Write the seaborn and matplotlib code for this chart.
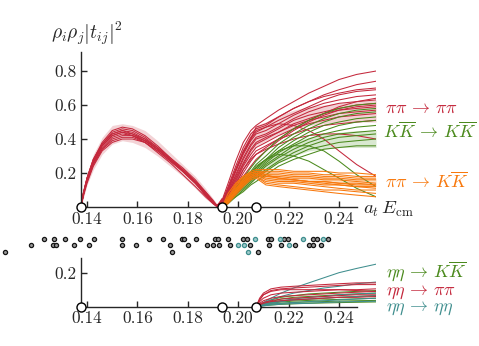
import numpy as np
import pandas as pd
import seaborn as sns
import matplotlib.pyplot as plt

# thresholds 2m_pi, 2m_K, 2m_eta (a_t units)
THRESHOLDS = [0.1376, 0.1936, 0.2071]

RED = '#c4283c'
GREEN = '#4b8a1d'
ORANGE = '#f8780c'
TEAL = '#3f8e8e'

# pi pi -> pi pi below KKbar threshold
X_HUMP = [0.1376, 0.1385, 0.1400, 0.1425, 0.1460, 0.1500, 0.1540, 0.1580, 0.1630,
          0.1680, 0.1730, 0.1780, 0.1830, 0.1870, 0.1900, 0.1915, 0.1936]
PIPI_HUMP = [
    [0, .08, .17, .28, .38, .45, .47, .46, .42, .36, .29, .22, .15, .08, .03, .006, .03],
    [0, .08, .17, .28, .37, .44, .46, .45, .41, .35, .28, .21, .14, .08, .03, .004, .02],
    [0, .07, .16, .27, .37, .43, .45, .44, .40, .34, .28, .21, .14, .07, .025, .005, .04],
    [0, .07, .16, .26, .36, .42, .44, .43, .39, .34, .28, .22, .15, .08, .03, .007, .03],
    [0, .07, .16, .26, .35, .41, .43, .42, .39, .34, .28, .22, .15, .08, .03, .005, .02],
    [0, .07, .15, .25, .34, .40, .42, .42, .39, .34, .28, .21, .14, .07, .025, .004, .03],
    [0, .07, .15, .25, .34, .39, .41, .41, .38, .33, .27, .21, .14, .07, .02, .003, .05],
    [0, .08, .17, .27, .36, .42, .44, .42, .38, .32, .26, .19, .12, .06, .02, .004, .02],
    [0, .06, .14, .24, .33, .38, .40, .40, .38, .33, .27, .21, .15, .09, .04, .01, .03],
    [0, .08, .17, .28, .37, .43, .45, .43, .40, .35, .29, .23, .16, .09, .035, .008, .04],
]
PIPI_HUMP_LO = [0, .05, .13, .22, .31, .37, .39, .38, .35, .30, .24, .18, .11, .05, .015, 0, 0]
PIPI_HUMP_HI = [0, .10, .20, .31, .41, .48, .49, .48, .45, .39, .32, .25, .18, .11, .05, .02, .05]

# above KKbar threshold
X_OPEN = [0.1936, 0.1960, 0.1990, 0.2020, 0.2050, 0.2071, 0.2110, 0.2160, 0.2220,
          0.2280, 0.2340, 0.2400, 0.2470, 0.2547]
PIPI = [
    [.04, .14, .27, .38, .45, .48, .52, .57, .62, .67, .71, .75, .78, .80],
    [.03, .12, .24, .35, .43, .46, .48, .53, .58, .62, .65, .67, .69, .70],
    [.03, .11, .22, .33, .41, .45, .47, .51, .55, .59, .63, .66, .68, .69],
    [.03, .10, .21, .31, .39, .43, .45, .49, .54, .58, .61, .63, .65, .66],
    [.02, .09, .19, .29, .37, .41, .43, .47, .52, .56, .59, .61, .62, .63],
    [.02, .09, .18, .28, .36, .40, .42, .46, .51, .54, .56, .58, .60, .61],
    [.02, .08, .17, .26, .34, .38, .41, .44, .49, .52, .55, .57, .58, .59],
    [.02, .08, .16, .25, .33, .37, .40, .44, .48, .51, .53, .55, .56, .57],
    [.02, .07, .15, .24, .31, .35, .38, .42, .46, .49, .51, .53, .54, .55],
    [.01, .06, .13, .22, .29, .33, .36, .40, .43, .46, .48, .49, .50, .51],
    [.03, .11, .22, .32, .40, .44, .47, .49, .48, .45, .40, .33, .25, .18],
    [.01, .05, .12, .20, .27, .31, .34, .37, .40, .42, .43, .43, .42, .40],
    [.02, .10, .21, .32, .40, .47, .49, .53, .58, .62, .66, .69, .72, .74],
    [.02, .07, .14, .22, .28, .31, .35, .40, .46, .51, .55, .59, .62, .64],
    [.01, .05, .11, .18, .24, .28, .33, .39, .45, .50, .54, .57, .59, .60],
]
PIPI_LO = [.01, .06, .14, .23, .31, .36, .39, .43, .46, .48, .49, .50, .50, .50]
PIPI_HI = [.04, .13, .25, .36, .44, .48, .50, .54, .57, .59, .60, .61, .62, .63]

KK = [
    [0, .05, .11, .17, .23, .27, .33, .40, .46, .51, .55, .58, .60, .61],
    [0, .05, .10, .16, .21, .25, .30, .37, .43, .48, .52, .55, .57, .58],
    [0, .04, .09, .15, .20, .23, .28, .35, .41, .46, .50, .53, .55, .56],
    [0, .04, .09, .14, .19, .22, .27, .33, .39, .44, .48, .50, .52, .53],
    [0, .04, .08, .13, .18, .21, .26, .32, .37, .42, .45, .48, .50, .51],
    [0, .03, .08, .12, .17, .20, .25, .30, .36, .40, .43, .45, .47, .48],
    [0, .03, .07, .12, .16, .19, .24, .29, .34, .38, .41, .43, .44, .45],
    [0, .03, .07, .11, .15, .18, .22, .27, .32, .36, .39, .41, .42, .43],
    [0, .03, .06, .10, .14, .17, .21, .26, .30, .34, .36, .38, .39, .40],
    [0, .02, .06, .09, .13, .15, .19, .24, .28, .31, .34, .35, .36, .36],
    [0, .04, .09, .15, .20, .24, .28, .31, .30, .27, .22, .17, .11, .06],
    [0, .04, .09, .14, .19, .23, .28, .33, .36, .36, .33, .27, .19, .12],
]
KK_LO = [0, .02, .06, .10, .14, .17, .21, .26, .30, .33, .34, .35, .35, .35]
KK_HI = [0, .04, .09, .14, .19, .22, .27, .33, .38, .41, .43, .44, .45, .45]

PIPI_KK = [
    [0, .06, .13, .18, .21, .22, .22, .22, .21, .21, .21, .20, .20, .19],
    [0, .05, .12, .17, .20, .21, .21, .21, .20, .20, .19, .19, .18, .18],
    [0, .05, .11, .16, .20, .21, .20, .20, .19, .19, .18, .18, .17, .17],
    [0, .04, .10, .16, .19, .20, .19, .19, .18, .18, .17, .17, .16, .16],
    [0, .04, .10, .15, .19, .20, .18, .18, .17, .17, .16, .16, .15, .14],
    [0, .04, .09, .15, .18, .19, .17, .16, .16, .15, .15, .14, .13, .13],
    [0, .03, .09, .14, .18, .19, .16, .15, .15, .14, .13, .13, .12, .11],
    [0, .03, .08, .13, .17, .18, .15, .14, .14, .13, .12, .11, .10, .10],
    [0, .03, .08, .13, .17, .18, .14, .13, .12, .11, .10, .10, .09, .08],
    [0, .02, .07, .12, .16, .17, .13, .12, .11, .10, .09, .08, .07, .06],
    [0, .08, .14, .18, .20, .21, .19, .17, .16, .15, .14, .13, .12, .12],
    [0, .03, .09, .14, .18, .19, .18, .17, .16, .15, .15, .14, .14, .13],
]
PIPI_KK_LO = [0, .03, .08, .13, .17, .18, .16, .15, .14, .14, .13, .13, .12, .12]
PIPI_KK_HI = [0, .05, .12, .17, .20, .21, .20, .19, .19, .18, .18, .17, .17, .17]

# eta eta channels, above 2m_eta
X_ETA = [0.2071, 0.2085, 0.2100, 0.2130, 0.2170, 0.2220, 0.2280, 0.2340, 0.2400, 0.2470, 0.2547]
ETA_KK = [
    [0, .01, .02, .04, .055, .065, .075, .08, .085, .09, .095],
    [0, .01, .02, .03, .045, .055, .06, .065, .07, .075, .08],
    [0, .008, .015, .025, .035, .04, .045, .05, .055, .06, .065],
    [0, .005, .01, .02, .028, .033, .037, .04, .043, .046, .05],
    [0, .004, .008, .015, .02, .025, .028, .03, .033, .035, .037],
    [0, .003, .006, .01, .014, .017, .02, .022, .024, .026, .028],
]
ETA_PIPI = [
    [0, .05, .08, .105, .115, .12, .125, .13, .135, .14, .14],
    [0, .04, .07, .095, .105, .11, .115, .12, .125, .13, .13],
    [0, .03, .05, .07, .08, .085, .09, .095, .10, .10, .105],
    [0, .02, .035, .05, .06, .065, .07, .075, .08, .085, .09],
    [0, .015, .025, .035, .045, .05, .055, .06, .065, .07, .07],
    [0, .01, .02, .03, .035, .04, .045, .05, .055, .055, .06],
    [0, .04, .07, .09, .10, .10, .10, .10, .10, .095, .09],
]
ETA_ETA = [
    [0, .01, .025, .05, .08, .11, .14, .17, .20, .225, .25],
    [0, .01, .02, .04, .06, .08, .095, .11, .12, .135, .145],
    [0, .005, .015, .025, .035, .045, .055, .06, .07, .075, .08],
    [0, .005, .01, .02, .03, .04, .045, .05, .055, .06, .065],
    [0, .003, .008, .015, .02, .025, .03, .035, .04, .045, .05],
    [0, .002, .005, .01, .015, .018, .02, .025, .028, .03, .032],
]

# finite-volume levels shown between the panels (row 0 top)
LEVELS_X = [0.1228, 0.1268, 0.1314, 0.1373, 0.1429, 0.1538, 0.1645, 0.1702, 0.1776,
            0.1785, 0.1833, 0.1908, 0.1921, 0.1958, 0.2018, 0.2036, 0.2119, 0.2130,
            0.2182, 0.2199, 0.2296, 0.2312, 0.2355,
            0.1178, 0.1264, 0.1276, 0.1348, 0.1409, 0.1539, 0.1596, 0.1729, 0.1802,
            0.1877, 0.1899, 0.1923, 0.1967, 0.2047, 0.2121, 0.2170, 0.2225, 0.2280,
            0.2296, 0.2330,
            0.1076, 0.1736, 0.2077]
LEVELS_ROW = [0] * 23 + [1] * 20 + [2] * 3
LEVELS_ETA_X = [0.2065, 0.2167, 0.2256, 0.2335, 0.2000, 0.2023, 0.2203, 0.2038]
LEVELS_ETA_ROW = [0, 0, 0, 0, 1, 1, 1, 2]

XLIM = (0.1376, 0.2547)


def to_long(x, curves):
    rows = []
    for k, ys in enumerate(curves):
        for xv, yv in zip(x, ys):
            rows.append({'x': xv, 'y': yv, 'curve': k})
    return pd.DataFrame(rows)


def draw_curves(ax, x, curves, color, lw=0.75):
    sns.lineplot(data=to_long(x, curves), x='x', y='y', units='curve', estimator=None,
                 color=color, lw=lw, ax=ax, legend=False)


def style_axis(ax, ylim, yticks):
    ax.set_xlim(*XLIM)
    ax.set_ylim(*ylim)
    ax.set_xticks([0.14, 0.16, 0.18, 0.20, 0.22, 0.24])
    ax.set_xticklabels(['0.14', '0.16', '0.18', '0.20', '0.22', '0.24'])
    ax.set_yticks(yticks)
    ax.set_yticklabels([f'{t:.1f}' for t in yticks])
    ax.set_xlabel('')
    ax.set_ylabel('')
    for s in ['top', 'right']:
        ax.spines[s].set_visible(False)
    ax.spines['left'].set_linewidth(1.0)
    ax.spines['bottom'].set_linewidth(1.0)
    ax.spines['bottom'].set_bounds(XLIM[0], 0.2471)
    ax.tick_params(direction='in', length=4.5, width=1.0, labelsize=12.5, pad=3)
    ax.patch.set_alpha(0)
    ax.plot(THRESHOLDS, [0] * len(THRESHOLDS), 'o', mfc='white', mec='black',
            ms=6.5, mew=1.0, clip_on=False, zorder=20)


sns.set_style('ticks')
plt.rcParams['font.family'] = 'serif'
plt.rcParams['font.serif'] = ['cmr10', 'DejaVu Serif']
plt.rcParams['mathtext.fontset'] = 'cm'
plt.rcParams['axes.formatter.use_mathtext'] = True

fig = plt.figure(figsize=(4.79, 3.46), dpi=100)
ax_top = fig.add_axes([0.1691, 0.4017, 0.6159, 0.4480])
ax_lev = fig.add_axes([0.0, 0.2512, 1.0, 0.0786])
ax_bot = fig.add_axes([0.1691, 0.1136, 0.6159, 0.1408])

# top panel
ax_top.fill_between(X_HUMP, PIPI_HUMP_LO, PIPI_HUMP_HI, color='#f3d3d6', lw=0, zorder=1)
ax_top.fill_between(X_OPEN, PIPI_LO, PIPI_HI, color='#f0c9cd', alpha=0.85, lw=0, zorder=1)
ax_top.fill_between(X_OPEN, KK_LO, KK_HI, color='#d3e4c8', alpha=0.85, lw=0, zorder=1)
ax_top.fill_between(X_OPEN, PIPI_KK_LO, PIPI_KK_HI, color='#fdd9b8', alpha=0.85, lw=0, zorder=1)
draw_curves(ax_top, X_HUMP, PIPI_HUMP, RED)
draw_curves(ax_top, X_OPEN, PIPI, RED)
draw_curves(ax_top, X_OPEN, KK, GREEN)
draw_curves(ax_top, X_OPEN, PIPI_KK, ORANGE)
style_axis(ax_top, (0, 0.912), [0.2, 0.4, 0.6, 0.8])

lab = dict(fontsize=13, va='baseline', ha='left')
ax_top.text(0.2582, 0.553, r'$\pi\pi\,\rightarrow\,\pi\pi$', color=RED, **lab)
ax_top.text(0.2574, 0.405, r'$K\overline{K}\,\rightarrow\,K\overline{K}$', color=GREEN, **lab)
ax_top.text(0.2582, 0.118, r'$\pi\pi\,\rightarrow\,K\overline{K}$', color=ORANGE, **lab)
ax_top.text(0.2495, -0.012, r'$a_t\, E_{\mathrm{cm}}$', fontsize=13.5, va='center', ha='left')

fig.text(0.1816, 0.905, r'$\rho_i\rho_j\left|t_{ij}\right|^2$', fontsize=14,
         ha='center', va='center')

# level spectrum strip
lev = pd.DataFrame({'x': LEVELS_X, 'row': LEVELS_ROW})
lev_eta = pd.DataFrame({'x': LEVELS_ETA_X, 'row': LEVELS_ETA_ROW})
sns.scatterplot(data=lev, x='x', y='row', ax=ax_lev, s=9, color='#999999',
                edgecolor='#151515', linewidth=0.9, legend=False)
sns.scatterplot(data=lev_eta, x='x', y='row', ax=ax_lev, s=9, color='#9fcaca',
                edgecolor=TEAL, linewidth=0.9, legend=False)
ax_lev.set_xlim(XLIM[0] - 81 / 2520, XLIM[0] + 398 / 2520)
ax_lev.set_ylim(3, -1)
ax_lev.axis('off')

# bottom panel
draw_curves(ax_bot, X_ETA, ETA_KK, GREEN)
draw_curves(ax_bot, X_ETA, ETA_ETA, TEAL)
draw_curves(ax_bot, X_ETA, ETA_PIPI, RED)
style_axis(ax_bot, (0, 0.2865), [0.2])

ax_bot.text(0.2585, 0.175, r'$\eta\eta\,\rightarrow\,K\overline{K}$', color=GREEN, **lab)
ax_bot.text(0.2585, 0.072, r'$\eta\eta\,\rightarrow\,\pi\pi$', color=RED, **lab)
ax_bot.text(0.2585, -0.025, r'$\eta\eta\,\rightarrow\,\eta\eta$', color=TEAL, **lab)

fig.savefig('out.png', dpi=100)
